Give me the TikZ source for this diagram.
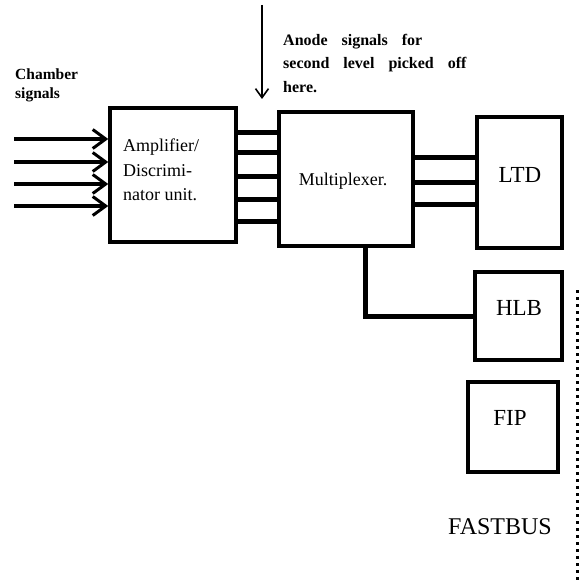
\documentclass[tikz,border=0pt]{standalone}
\usepackage{fontspec}
\setmainfont{Liberation Serif}
\usetikzlibrary{arrows.meta,positioning,calc}

\begin{document}
\begin{tikzpicture}[
  x=1pt,y=-1pt,
  box/.style={draw,line width=3.5pt,inner sep=0pt},
  bigtext/.style={font=\fontsize{23}{25}\selectfont},
  midtext/.style={font=\fontsize{18}{24.5}\selectfont,align=left,inner sep=0pt},
  smalltext/.style={font=\fontsize{16}{23.5}\selectfont\bfseries,
                    execute at begin node={\spaceskip=14pt\relax},
                    align=left,inner sep=0pt},
  bus/.style={line width=5pt},
  sig/.style={line width=4pt,-{Straight Barb[length=13pt,width=19pt,line width=3pt]}},
]
  \useasboundingbox (0,0) rectangle (580,580);

  % Boxes
  \node[box,minimum width=126pt,minimum height=134pt] (amp) at (173,175) {};
  \node[box,minimum width=134pt,minimum height=134pt] (mux) at (346,179) {};
  \node[box,minimum width=85pt,minimum height=131pt] (ltd) at (519.5,182.5) {};
  \node[box,minimum width=87pt,minimum height=88pt] (hlb) at (518.5,316) {};
  \node[box,minimum width=90pt,minimum height=90pt] (fip) at (513,427) {};

  % Labels
  \node[midtext,anchor=north west] (amplabel) at (123,139)
    {Amplifier/\\Discrimi-\\nator unit.};
  \node[midtext] (muxlabel) at (343,181) {Multiplexer.};
  \node[bigtext] (ltdlabel) at (520,175) {LTD};
  \node[bigtext] (hlblabel) at (519,308) {HLB};
  \node[bigtext] (fiplabel) at (510,418) {FIP};
  \node[bigtext,font=\fontsize{24}{26}\selectfont] (fastbus) at (500,527) {FASTBUS};
  \node[smalltext,font=\fontsize{15.5}{18.5}\selectfont\bfseries,anchor=north west]
    (chamber) at (15,69) {Chamber\\signals};
  \node[smalltext,anchor=north west] (anode) at (283,34)
    {Anode signals for\\second level picked off\\here.};

  % Chamber inputs
  \foreach \y in {139,162,184,206}
    \draw[sig] (14,\y) coordinate (in\y) -- (amp.west |- in\y);

  % Amplifier to multiplexer
  \foreach \y in {133,153,176,199,221}
    \draw[bus] (amp.east |- 0,\y) -- (mux.west |- 0,\y);

  % Multiplexer to LTD
  \foreach \y in {158,182,204}
    \draw[bus] (mux.east |- 0,\y) -- (ltd.west |- 0,\y);

  % Multiplexer to HLB
  \draw[bus] (mux.south -| 365,0) |- (hlb.west);

  % Pick-off arrow
  \coordinate (picktop) at (262,5);
  \coordinate (pickend) at (262,99);
  \draw[line width=1.8pt,-{Straight Barb[length=9pt,width=13pt,line width=1.6pt]}]
    (picktop) -- (pickend);

  % FASTBUS crate edge
  \draw[line width=3pt,dash pattern=on 3pt off 4pt] (577,290) -- (577,580);
\end{tikzpicture}
\end{document}
